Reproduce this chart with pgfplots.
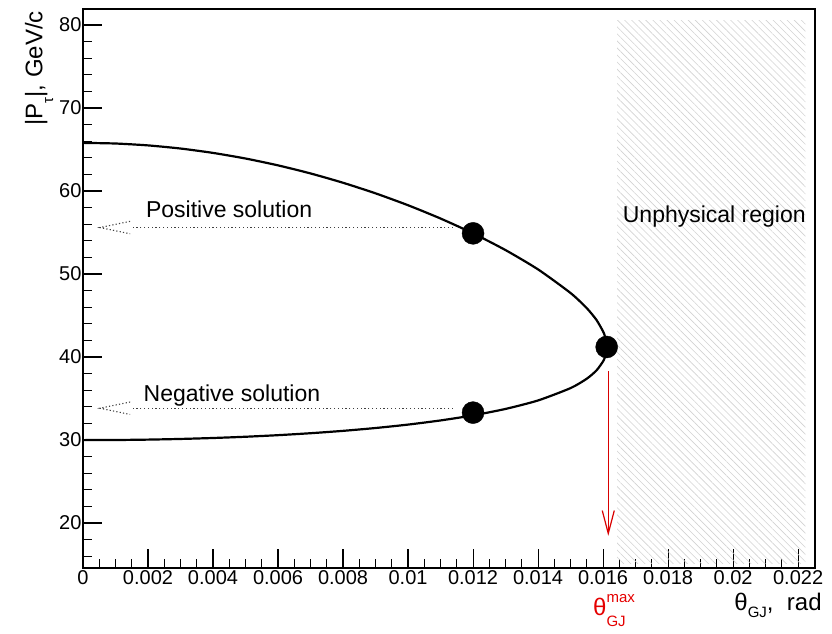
\documentclass[border=0pt]{standalone}
\usepackage{fontspec}
\setmainfont{Liberation Sans}
\usepackage{pgfplots}
\pgfplotsset{compat=1.18}
\usetikzlibrary{patterns.meta}
\begin{document}
\begin{tikzpicture}
\begin{axis}[
  scale only axis, width=732pt, height=559pt,
  xmin=0, xmax=0.02252, ymin=14.58, ymax=81.93,
  scaled x ticks=false,
  xtick={0,0.002,0.004,0.006,0.008,0.01,0.012,0.014,0.016,0.018,0.02,0.022},
  xticklabels={0,0.002,0.004,0.006,0.008,0.01,0.012,0.014,0.016,0.018,0.02,0.022},
  minor xtick={0.0005,0.001,0.0015,0.0025,0.003,0.0035,0.0045,0.005,0.0055,0.0065,0.007,0.0075,0.0085,0.009,0.0095,0.0105,0.011,0.0115,0.0125,0.013,0.0135,0.0145,0.015,0.0155,0.0165,0.017,0.0175,0.0185,0.019,0.0195,0.0205,0.021,0.0215,0.0225},
  ytick={20,30,40,50,60,70,80},
  minor ytick={16,18,22,24,26,28,32,34,36,38,42,44,46,48,52,54,56,58,62,64,66,68,72,74,76,78},
  tick pos=left, tick align=inside,
  major tick length=19pt, minor tick length=9.5pt,
  axis line style={line width=1.2pt},
  every tick/.style={black, line width=1.1pt},
  tick label style={font=\fontsize{20}{22}\selectfont},
  xticklabel style={yshift=-1pt, inner ysep=1pt},
  yticklabel style={xshift=2pt},
  /pgf/number format/assume math mode=true,
  clip=false,
]
% unphysical region hatch
\addplot[draw=none, pattern={Lines[angle=-45,distance=5pt,line width=0.6pt]}, pattern color=gray!35]
  coordinates {(0.01643,15.15) (0.02222,15.15) (0.02222,80.6) (0.01643,80.6)} -- cycle;
% curve
\addplot[black, line width=2.2pt, smooth, tension=0.4] coordinates {
(0,65.80) (0.001,65.724) (0.002,65.497) (0.003,65.120) (0.004,64.592) (0.005,63.916)
(0.006,63.091) (0.007,62.118) (0.008,60.995) (0.009,59.720) (0.010,58.287) (0.011,56.686)
(0.012,54.90) (0.013,52.880) (0.014,50.555) (0.015,47.711) (0.0155,45.881) (0.0158,44.450)
(0.016,43.087) (0.01605,42.581) (0.01609,41.995) (0.016111,41.21) (0.01609,40.439)
(0.01605,39.910) (0.016,39.476) (0.0158,38.397) (0.0155,37.390) (0.015,36.256)
(0.014,34.768) (0.013,33.747) (0.012,32.97) (0.011,32.360) (0.010,31.859) (0.009,31.447)
(0.008,31.104) (0.007,30.820) (0.006,30.585) (0.005,30.394) (0.004,30.244) (0.003,30.129)
(0.002,30.049) (0.001,30.002) (0,29.99)};
% dotted arrows
\addplot[black!75, line width=1.2pt, dash pattern=on 1.2pt off 2.6pt] coordinates {(0.01138,55.6) (0.00145,55.6)};
\addplot[black!75, line width=1.1pt, dash pattern=on 1.2pt off 2.2pt] coordinates {(0.00145,56.35) (0.00052,55.6) (0.00145,54.85)};
\addplot[black!75, line width=1.2pt, dash pattern=on 1.2pt off 2.6pt] coordinates {(0.01138,33.83) (0.00145,33.83)};
\addplot[black!75, line width=1.1pt, dash pattern=on 1.2pt off 2.2pt] coordinates {(0.00145,34.58) (0.00052,33.83) (0.00145,33.08)};
% red arrow
\addplot[red!85!black, line width=1.2pt] coordinates {(0.01616,38.3) (0.01616,18.74)};
\addplot[red!85!black, line width=1.2pt] coordinates {(0.015975,21.5) (0.01616,18.74) (0.016345,21.5)};
% dots
\addplot[only marks, mark=*, mark size=11pt, black] coordinates {(0.012,54.90) (0.012,33.3) (0.016111,41.21)};
% texts
\node[font=\fontsize{23}{25}\selectfont, anchor=west] at (axis cs:0.00183,57.8) {Positive solution};
\node[font=\fontsize{23}{25}\selectfont, anchor=west] at (axis cs:0.00176,35.3) {Negative solution};
\node[font=\fontsize{23}{25}\selectfont, anchor=west] at (axis cs:0.0165,56.95) {Unphysical region};
\node[font=\fontsize{24}{26}\selectfont, anchor=base east, inner sep=0pt] at (axis cs:0.02273,9.45) {θ\raisebox{-0.3em}{\fontsize{15}{16}\selectfont GJ},\ \ rad};
\node[font=\fontsize{24}{26}\selectfont, anchor=base west, inner sep=0pt, text=red!90!black] at (axis cs:0.01569,8.85) {θ\rlap{\raisebox{0.55em}{\fontsize{15}{16}\selectfont max}}\raisebox{-0.45em}{\fontsize{15}{16}\selectfont GJ}\phantom{max}};
\node[font=\fontsize{24}{26}\selectfont, rotate=90, anchor=base east, inner sep=0pt] at (axis cs:-0.00125,81.7) {|P\raisebox{-0.45em}{\fontsize{15}{16}\selectfont τ}|,\ GeV/c};
\coordinate (SW) at (rel axis cs:0,0);
\end{axis}
\pgfresetboundingbox
\path ([shift={(-83pt,-65pt)}]SW) rectangle ++(832pt,633pt);
\end{tikzpicture}
\end{document}
